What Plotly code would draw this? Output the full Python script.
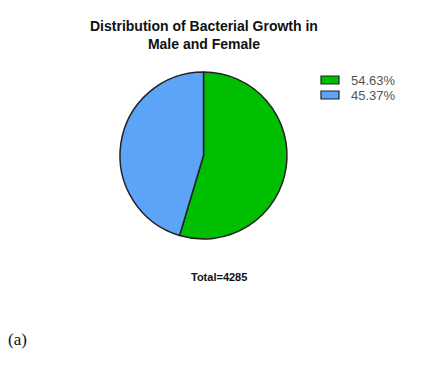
import plotly.graph_objects as go

labels = ["54.63%", "45.37%"]
values = [2341, 1944]
colors = ["#00BE00", "#5CA4F8"]
total = sum(values)

W, H = 425, 380
fig = go.Figure()
fig.add_trace(go.Pie(
    labels=labels, values=values, sort=False, direction="clockwise", rotation=0,
    marker=dict(colors=colors, line=dict(color="#222222", width=1.5)),
    textinfo="none", hoverinfo="label",
    domain=dict(x=[120/W, 287/W], y=[1-239/H, 1-72/H]),
))

shapes = []
annotations = [
    dict(text="<b>Distribution of Bacterial Growth in<br>Male and Female</b>",
         x=204/W, y=1-35/H, xref="paper", yref="paper", showarrow=False,
         xanchor="center", yanchor="middle",
         font=dict(family="Liberation Sans, Arial", size=14, color="#111111"),
         align="center"),
    dict(text=f"<b>Total={total}</b>", x=219/W, y=1-277/H, xref="paper", yref="paper",
         showarrow=False, xanchor="center", yanchor="middle",
         font=dict(family="Liberation Sans, Arial", size=11, color="#111111")),
    dict(text="(a)", x=17/W, y=1-339/H, xref="paper", yref="paper", showarrow=False,
         xanchor="center", yanchor="middle",
         font=dict(family="Liberation Serif, Times New Roman", size=17, color="#111111")),
]
# legend (custom, built from data arrays)
for i, (lab, col) in enumerate(zip(labels, colors)):
    yc = 80 + i * 15
    shapes.append(dict(type="rect", xref="paper", yref="paper",
                       x0=321/W, x1=339/W, y0=1-(yc+4)/H, y1=1-(yc-4)/H,
                       fillcolor=col, line=dict(color="#222222", width=1.2)))
    annotations.append(dict(text=lab, x=349/W, y=1-yc/H, xref="paper", yref="paper",
                            showarrow=False, xanchor="left", yanchor="middle",
                            font=dict(family="Liberation Sans, Arial", size=13, color="#555555")))

fig.update_layout(
    width=W, height=H, margin=dict(l=0, r=0, t=0, b=0),
    paper_bgcolor="white", plot_bgcolor="white",
    showlegend=False, shapes=shapes, annotations=annotations,
)
fig.write_html("out.html")
